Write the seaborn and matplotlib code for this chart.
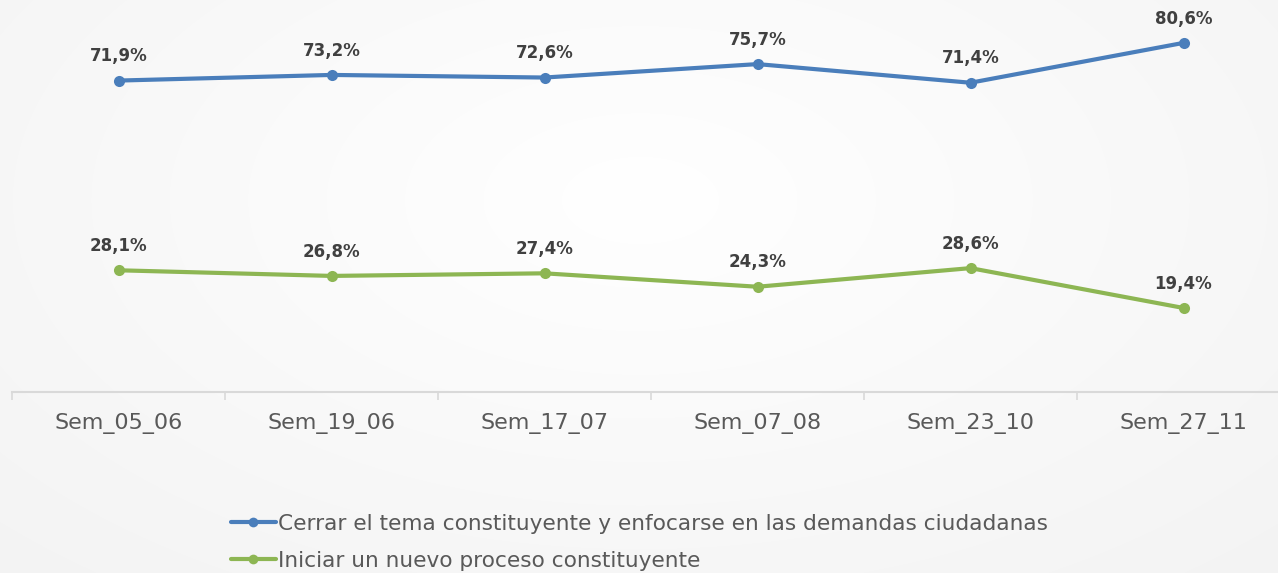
import numpy as np
import pandas as pd
import matplotlib
matplotlib.use("Agg")
import matplotlib.pyplot as plt
import seaborn as sns
from matplotlib.lines import Line2D

categories = ["Sem_05_06", "Sem_19_06", "Sem_17_07", "Sem_07_08", "Sem_23_10", "Sem_27_11"]
serie_cerrar = [71.9, 73.2, 72.6, 75.7, 71.4, 80.6]
serie_iniciar = [28.1, 26.8, 27.4, 24.3, 28.6, 19.4]
series_names = ["Cerrar el tema constituyente y enfocarse en las demandas ciudadanas",
                "Iniciar un nuevo proceso constituyente"]
colors = ["#4A7EBB", "#8DB653"]

df = pd.DataFrame({
    "cat": categories * 2,
    "x": list(range(len(categories))) * 2,
    "val": serie_cerrar + serie_iniciar,
    "serie": [series_names[0]] * 6 + [series_names[1]] * 6,
})

sns.set_theme(style="white")
plt.rcParams["font.family"] = ["DejaVu Sans"]

fig = plt.figure(figsize=(12.78, 5.73), dpi=100)

# subtle radial background
bg = fig.add_axes([0, 0, 1, 1], zorder=-10)
yy, xx = np.mgrid[0:573, 0:1278]
r = np.sqrt(((xx - 640) / 900.0) ** 2 + ((yy - 200) / 500.0) ** 2)
g = 1.0 - 0.045 * np.clip(r, 0, 1)
bg.imshow(np.dstack([g, g, g]), aspect="auto", extent=[0, 1, 0, 1])
bg.axis("off")

W, H = 1278, 573
ax = fig.add_axes([12 / W, (H - 392) / H, (1290 - 12) / W, 392 / H])
ax.patch.set_alpha(0)

sns.lineplot(data=df, x="x", y="val", hue="serie", palette=colors, marker="o",
             markersize=8, markeredgewidth=0, linewidth=3, ax=ax, legend=False)

ax.set_xlim(-0.5, 5.5)
ax.set_ylim(0, 90.5)
ax.set_yticks([])
ax.set_xlabel("")
ax.set_ylabel("")
for s in ["top", "right", "left"]:
    ax.spines[s].set_visible(False)
ax.spines["bottom"].set_color("#D9D9D9")
ax.spines["bottom"].set_linewidth(1.5)

ax.set_xticks(np.arange(-0.5, 6.0, 1.0), minor=False)
ax.set_xticklabels([])
ax.tick_params(axis="x", which="major", direction="out", length=6, width=1.2, color="#D9D9D9", bottom=True)
ax.set_xticks(range(len(categories)), minor=True)
ax.set_xticklabels(categories, minor=True)
ax.tick_params(axis="x", which="minor", length=0, pad=15, labelsize=16, labelcolor="#595959")

for vals in [serie_cerrar, serie_iniciar]:
    for i, v in enumerate(vals):
        ax.annotate(f"{v:.1f}%".replace(".", ","), (i, v), xytext=(0, 17.5),
                    textcoords="offset points", ha="center", va="center",
                    fontsize=12, fontweight="bold", color="#404040")

handles = [Line2D([0], [0], color=c, lw=3, marker="o", markersize=7, markeredgewidth=0) for c in colors]
fig.legend(handles, series_names, loc="upper left", bbox_to_anchor=(222 / W, 1 - 505 / H),
           frameon=False, fontsize=15.6, labelcolor="#595959", handlelength=2.1,
           handletextpad=0.1, labelspacing=0.8, borderaxespad=0)

fig.savefig("out.png", dpi=100)
